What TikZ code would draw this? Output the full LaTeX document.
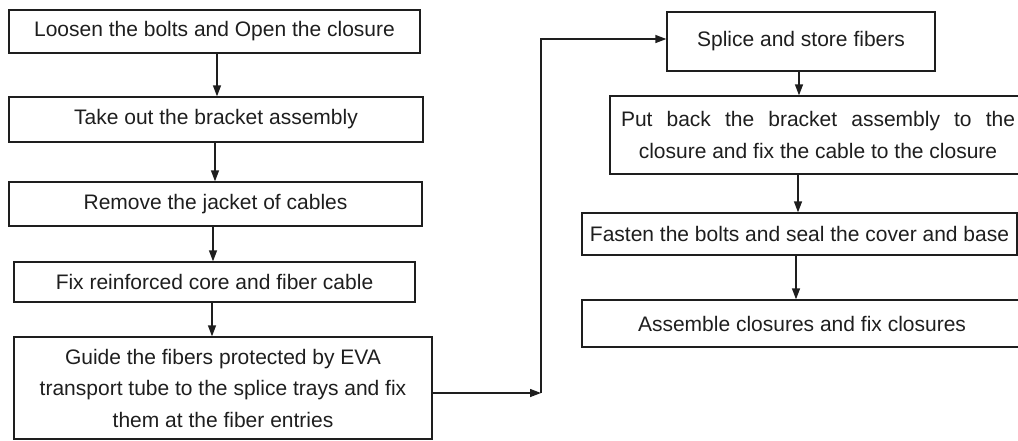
\documentclass[tikz,border=0pt]{standalone}
\usepackage{fontspec}
\setmainfont{Liberation Sans}
\usetikzlibrary{arrows.meta}
\definecolor{ink}{HTML}{1E1E1E}
\tikzset{
  stepbox/.style={draw=ink, line width=1.3pt, rectangle, inner sep=0pt, align=center,
    text=ink, font=\fontsize{21}{31.5}\selectfont},
  flow/.style={draw=ink, line width=1.3pt, -{Triangle[length=11pt,width=8pt]}},
  plain/.style={draw=ink, line width=1.3pt}
}
\begin{document}
\begin{tikzpicture}[x=1pt,y=-1pt]
\useasboundingbox (0,0) rectangle (1018,440);
\clip (0,0) rectangle (1018,440);
% left column
\node[stepbox, minimum width=411pt, minimum height=43pt] (b1) at (214.5,31.5) {Loosen the bolts and Open the closure};
\node[stepbox, minimum width=414pt, minimum height=45pt] (b2) at (216,119.5) {Take out the bracket assembly};
\node[stepbox, minimum width=413pt, minimum height=44pt] (b3) at (215.5,204) {Remove the jacket of cables};
\node[stepbox, minimum width=401pt, minimum height=40pt] (b4) at (214.5,282) {Fix reinforced core and fiber cable};
\node[stepbox, minimum width=418pt, minimum height=102pt] (b5) at (223,388) {Guide the fibers protected by EVA\\transport tube to the splice trays and fix\\them at the fiber entries};
% right column
\node[stepbox, minimum width=268pt, minimum height=59pt] (s1) at (801,41.5) {Splice and store fibers};
\node[stepbox, minimum width=416pt, minimum height=78pt] (s2) at (818,135) {\hbox to 394pt{Put\hfill back\hfill the\hfill bracket\hfill assembly\hfill to\hfill the}\\closure and fix the cable to the closure};
\node[stepbox, minimum width=435pt, minimum height=42pt] (s3) at (799.5,234) {Fasten the bolts and seal the cover and base};
\node[stepbox, minimum width=440pt, minimum height=47pt] (s4) at (802,323.5) {Assemble closures and fix closures};
% connectors
\coordinate (a1) at (217,0);
\coordinate (a2) at (215,0);
\coordinate (a3) at (213,0);
\coordinate (a4) at (212,0);
\draw[flow] (a1 |- b1.south) -- (a1 |- b2.north);
\draw[flow] (a2 |- b2.south) -- (a2 |- b3.north);
\draw[flow] (a3 |- b3.south) -- (a3 |- b4.north);
\draw[flow] (a4 |- b4.south) -- (a4 |- b5.north);
\coordinate (r1) at (799,0);
\coordinate (r2) at (798,0);
\coordinate (r3) at (796,0);
\draw[flow] (r1 |- s1.south) -- (r1 |- s2.north);
\draw[flow] (r2 |- s2.south) -- (r2 |- s3.north);
\draw[flow] (r3 |- s3.south) -- (r3 |- s4.north);
\coordinate (j) at (541,393);
\coordinate (t) at (541,39);
\draw[flow] (b5.east |- j) -- (j);
\draw[flow] (j) -- (t) -- (s1.west |- t);
\end{tikzpicture}
\end{document}
